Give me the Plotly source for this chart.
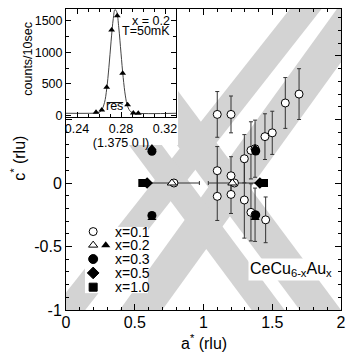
import plotly.graph_objects as go

# ---- main panel: magnetic peak positions in the a*c* plane (rlu) ----
# x = 0.1, vertical error bars
x01_a = [1.10, 1.20, 1.595, 1.695, 1.447, 1.50, 1.345, 1.375, 1.297,
         1.10, 1.20, 1.10, 1.20, 1.297, 1.345, 1.375, 1.452]
x01_c = [0.54, 0.54, 0.63, 0.70, 0.365, 0.395, 0.257, 0.27, 0.191,
         0.097, 0.057, -0.105, -0.09, -0.134, -0.231, -0.25, -0.29]
x01_dc = [0.18, 0.145, 0.2, 0.2, 0.18, 0.17, 0.225, 0.225, 0.19,
          0.19, 0.15, 0.19, 0.15, 0.3, 0.225, 0.21, 0.18]
# x = 0.1 on the c* = 0 line, horizontal error bars
x01h_a = [0.785, 1.225]
x01h_c = [0.0, 0.0]
x01h_da = [0.185, 0.19]

x02_open_a = [0.77, 1.21]
x02_open_c = [0.0, 0.0]
x02_full_a = [0.625, 0.625, 1.375, 1.375]
x02_full_c = [0.275, -0.275, 0.275, -0.275]
x03_a = [0.625, 0.625, 1.38, 1.38]
x03_c = [0.25, -0.255, 0.252, -0.252]
x05_a = [0.59, 1.41]
x05_c = [0.0, 0.0]
x10_a = [0.555, 1.44]
x10_c = [0.0, 0.0]

# shaded rods: a* of (left edge, right edge) at c* = -1 and at c* = 1.4
band_c = [-1.0, 1.4]
band_bottom = [(-0.10, 0.14), (0.39, 0.70), (1.35, 1.59), (1.70, 2.00)]
band_top = [(1.65, 1.88), (1.99, 2.30), (-0.30, -0.06), (0.05, 0.35)]

# ---- inset: l-scan through (1.375 0 l), x = 0.2, T = 50 mK ----
scan_l = [0.2573, 0.2625, 0.267, 0.2715, 0.2766, 0.2815, 0.286, 0.2912, 0.2957]
scan_counts = [50, 87, 449, 1356, 1584, 670, 170, 40, 36]
fit_l = [0.23, 0.255, 0.259, 0.262, 0.265, 0.267, 0.269, 0.271, 0.273, 0.2745,
         0.276, 0.278, 0.280, 0.282, 0.284, 0.286, 0.289, 0.293, 0.33]
fit_counts = [35, 36, 42, 75, 205, 420, 765, 1180, 1540, 1680,
              1650, 1390, 990, 600, 310, 145, 58, 38, 35]
res_l = [0.267, 0.282]
res_counts = [205, 205]

GRAY = "#d3d3d3"
FONT = "Liberation Sans, Arial, Helvetica, sans-serif"

fig = go.Figure()

for (b0, b1), (t0, t1) in zip(band_bottom, band_top):
    fig.add_trace(go.Scatter(
        x=[b0, b1, t1, t0, b0], y=[band_c[0], band_c[0], band_c[1], band_c[1], band_c[0]],
        fill="toself", fillcolor=GRAY, mode="lines", line=dict(width=0),
        hoverinfo="skip",
    ))

# white area under the inset tick labels
fig.add_trace(go.Scatter(
    x=[-0.1, 0.815, 0.815, -0.1, -0.1], y=[0.30, 0.30, 1.5, 1.5, 0.30],
    fill="toself", fillcolor="white", mode="lines", line=dict(width=0),
    hoverinfo="skip",
))

err_style = dict(color="#333", thickness=1, width=2)
open_marker = dict(color="white", line=dict(color="black", width=1))

fig.add_trace(go.Scatter(
    x=x01_a, y=x01_c, mode="markers",
    error_y=dict(type="data", array=x01_dc, **err_style),
    marker=dict(symbol="circle", size=8, **open_marker),
))
fig.add_trace(go.Scatter(
    x=x01h_a, y=x01h_c, mode="markers",
    error_x=dict(type="data", array=x01h_da, **err_style),
    marker=dict(symbol="circle", size=8, **open_marker),
))
fig.add_trace(go.Scatter(
    x=x02_open_a, y=x02_open_c, mode="markers",
    marker=dict(symbol="triangle-up", size=8, **open_marker),
))
fig.add_trace(go.Scatter(
    x=x02_full_a, y=x02_full_c, mode="markers",
    marker=dict(symbol="triangle-up", size=8, color="black"),
))
fig.add_trace(go.Scatter(
    x=x03_a, y=x03_c, mode="markers",
    marker=dict(symbol="circle", size=9, color="black"),
))
fig.add_trace(go.Scatter(
    x=x05_a, y=x05_c, mode="markers",
    marker=dict(symbol="diamond", size=9, color="black"),
))
fig.add_trace(go.Scatter(
    x=x10_a, y=x10_c, mode="markers",
    marker=dict(symbol="square", size=8, color="black"),
))

# inset
fig.add_trace(go.Scatter(
    x=fit_l, y=fit_counts, mode="lines", line=dict(color="#444", width=1, shape="spline"),
    xaxis="x2", yaxis="y2",
))
fig.add_trace(go.Scatter(
    x=scan_l, y=scan_counts, mode="markers",
    marker=dict(symbol="triangle-up", size=6, color="black"),
    xaxis="x2", yaxis="y2",
))
fig.add_trace(go.Scatter(
    x=res_l, y=res_counts, mode="lines", line=dict(color="black", width=1),
    xaxis="x2", yaxis="y2",
))

# hand-made legend on an overlay axis
legend_rows = ["x=0.1", "x=0.2", "x=0.3", "x=0.5", "x=1.0"]
row_y = [0.93, 0.725, 0.515, 0.305, 0.09]
sym_x = 0.13
legend_syms = [
    ("circle", "white", 8), ("triangle-up", "white", 8), ("circle", "black", 9),
    ("diamond", "black", 9), ("square", "black", 8),
]
for (sym, col, size), yy in zip(legend_syms, row_y):
    fig.add_trace(go.Scatter(
        x=[sym_x], y=[yy], mode="markers", xaxis="x3", yaxis="y3",
        marker=dict(symbol=sym, size=size, color=col, line=dict(color="black", width=1)),
    ))
fig.add_trace(go.Scatter(
    x=[0.33], y=[row_y[1]], mode="markers", xaxis="x3", yaxis="y3",
    marker=dict(symbol="triangle-up", size=8, color="black"),
))
for label, yy in zip(legend_rows, row_y):
    fig.add_annotation(
        x=0.44, y=yy, xref="x3", yref="y3", text=label, showarrow=False,
        xanchor="left", yanchor="middle", font=dict(size=14),
    )

fig.add_annotation(
    x=1.95, y=-0.68, xref="x", yref="y", text="CeCu<sub>6-x</sub>Au<sub>x</sub>",
    showarrow=False, xanchor="right", yanchor="middle", bgcolor="white",
    font=dict(size=16),
)
fig.add_annotation(
    x=0.3265, y=1500, xref="x2", yref="y2", text="x = 0.2", showarrow=False,
    xanchor="right", yanchor="middle", font=dict(size=12.5),
)
fig.add_annotation(
    x=0.3265, y=1335, xref="x2", yref="y2", text="T=50mK", showarrow=False,
    xanchor="right", yanchor="middle", font=dict(size=12.5),
)
fig.add_annotation(
    x=0.2745, y=150, xref="x2", yref="y2", text="res", showarrow=False,
    xanchor="center", yanchor="middle", font=dict(size=12.5),
)

# axis titles as annotations (paper coordinates)
fig.add_annotation(
    x=0.5, y=-0.106, xref="paper", yref="paper", text="a<sup>*</sup> (rlu)",
    showarrow=False, xanchor="center", yanchor="middle", font=dict(size=16),
)
fig.add_annotation(
    x=-0.175, y=0.505, xref="paper", yref="paper", text="c<sup>*</sup> (rlu)",
    showarrow=False, xanchor="center", yanchor="middle", textangle=-90, font=dict(size=16),
)
fig.add_annotation(
    x=-0.138, y=0.835, xref="paper", yref="paper", text="counts/10sec",
    showarrow=False, xanchor="center", yanchor="middle", textangle=-90, font=dict(size=12.5),
)

axis_common = dict(
    showline=True, linecolor="black", linewidth=1, mirror="ticks",
    ticks="inside", tickcolor="black", showgrid=False, zeroline=False,
    automargin=False,
)

fig.update_layout(
    width=354, height=358,
    margin=dict(l=66, r=13, t=9, b=48),
    paper_bgcolor="white", plot_bgcolor="white",
    showlegend=False,
    font=dict(family=FONT, size=16, color="black"),
    xaxis=dict(
        domain=[0, 1], range=[0, 2],
        tickvals=[0, 0.5, 1, 1.5, 2], ticktext=["0", "0.5", "1", "1.5", "2"],
        ticklen=6, ticklabelstandoff=-2,
        minor=dict(ticks="inside", dtick=0.1, tick0=0, ticklen=3, tickcolor="black"),
        **axis_common,
    ),
    yaxis=dict(
        domain=[0, 1], range=[-1, 1.37],
        tickvals=[-1, -0.5, 0, 0.5, 1], ticktext=["-1", "-0.5", "0", "", ""],
        ticklen=6, minor=dict(ticks="inside", dtick=0.1, tick0=0, ticklen=3, tickcolor="black"),
        **axis_common,
    ),
    xaxis2=dict(
        domain=[0, 0.4], anchor="y2", range=[0.23, 0.33],
        tickvals=[0.24, 0.28, 0.32], ticktext=["0.24", "0.28", "0.32"],
        ticklen=5, minor=dict(ticks="inside", dtick=0.01, tick0=0.24, ticklen=3, tickcolor="black"),
        tickfont=dict(size=12.5),
        title=dict(text="(1.375 0 l)", standoff=0, font=dict(size=12.5)), **axis_common,
    ),
    yaxis2=dict(
        domain=[0.641, 1], anchor="x2", range=[-25, 1690],
        tickvals=[0, 500, 1000, 1500], ticklen=5,
        minor=dict(ticks="inside", dtick=250, tick0=0, ticklen=3, tickcolor="black"),
        tickfont=dict(size=12.5), **axis_common,
    ),
    xaxis3=dict(domain=[0.069, 0.298], anchor="y3", range=[0, 1], visible=False),
    yaxis3=dict(domain=[0.056, 0.276], anchor="x3", range=[0, 1], visible=False),
)

fig.write_html(
    "out.html",
    config={"displayModeBar": False},
    post_script="document.body.style.margin = '0';",
)
